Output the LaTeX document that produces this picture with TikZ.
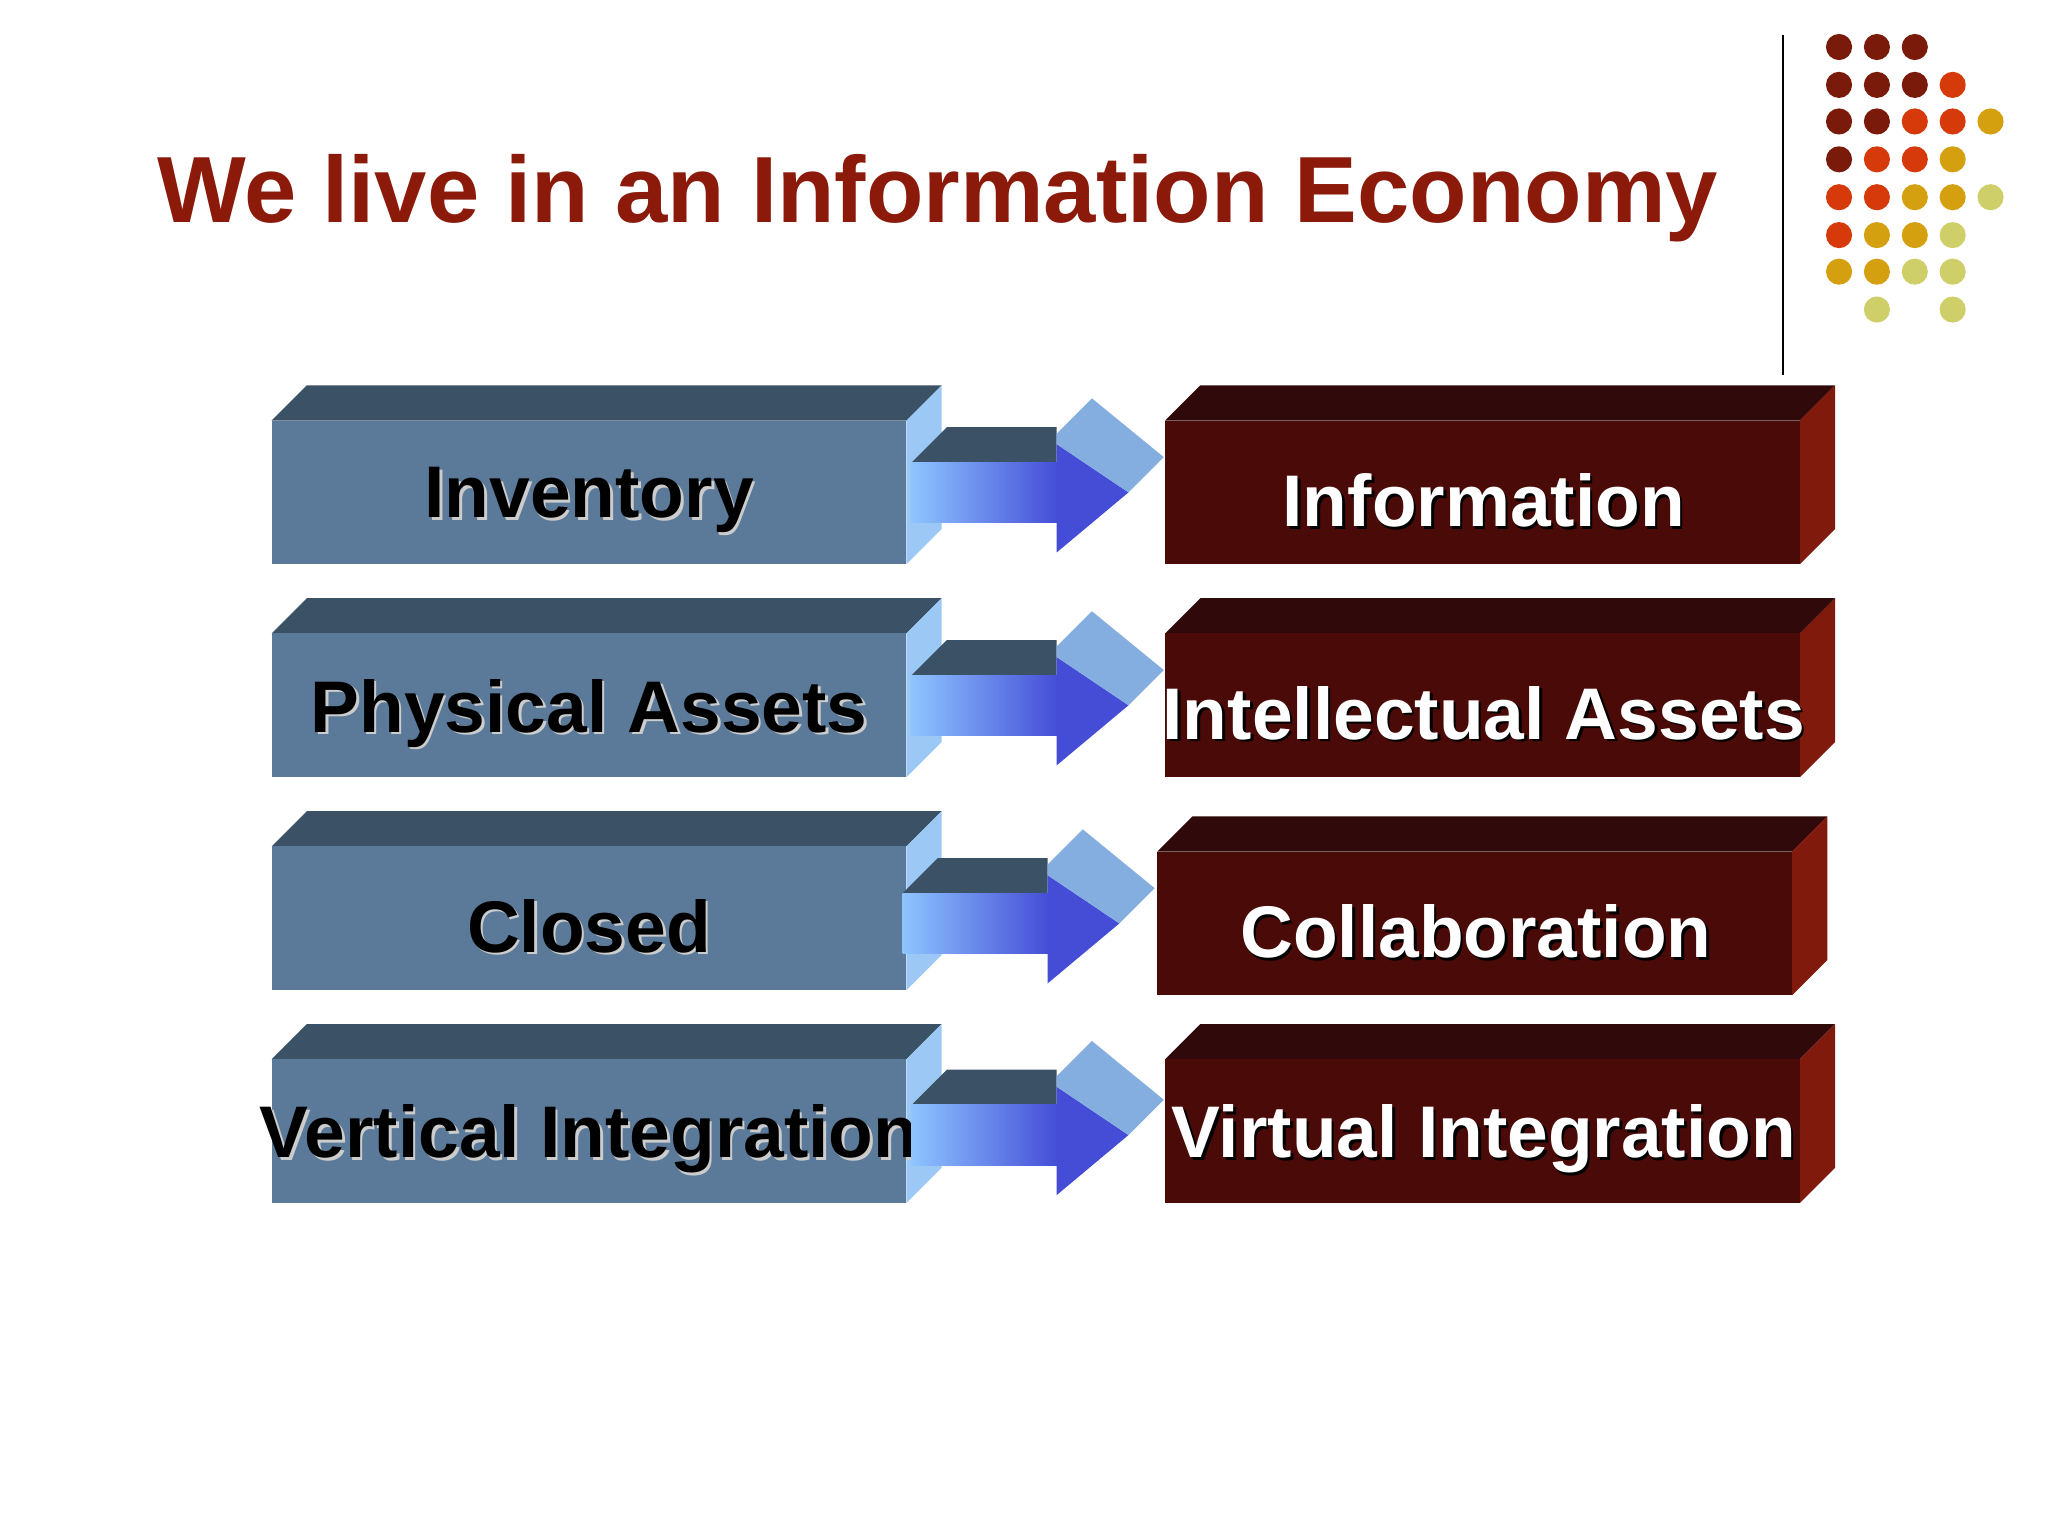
\documentclass[tikz,border=0pt]{standalone}
\usepackage{fontspec}
\setmainfont{Liberation Sans}
\definecolor{ttl}{HTML}{8B1A0A}
\definecolor{bfront}{HTML}{5B7A9A}
\definecolor{btop}{HTML}{3B5166}
\definecolor{bside}{HTML}{9CC8F5}
\definecolor{rfront}{HTML}{4A0A08}
\definecolor{rtop}{HTML}{300A0A}
\definecolor{rside}{HTML}{7F1A0C}
\definecolor{ashaftL}{HTML}{8EC4FF}
\definecolor{ashaftR}{HTML}{3838D0}
\definecolor{ahead}{HTML}{84AEDF}
\definecolor{dA}{HTML}{7A1A0A}
\definecolor{dB}{HTML}{D63A0A}
\definecolor{dC}{HTML}{D4A010}
\definecolor{dD}{HTML}{CFCF6A}
\tikzset{lbl/.style={font=\bfseries\fontsize{28}{30}\selectfont, inner sep=0pt}}
\newcommand\boxrow[5]{%
 % #1 y of front top, #2 right-box dx, #3 right-box dy, #4 left text, #5 right text, #6 arrow dx
 \begin{scope}[shift={(0,#1)}]
  \fill[btop] (208,0) -- (235,-27) -- (721,-27) -- (694,0) -- cycle;
  \fill[bside] (694,0) -- (721,-27) -- (721,83) -- (694,110) -- cycle;
  \fill[bfront] (208,0) rectangle (694,110);
  \node[lbl,text=gray!40] at (453,63) {#4};
  \node[lbl,text=black] (L#1) at (451,61) {#4};
 \end{scope}
 \begin{scope}[shift={(#2,#1+#3)}]
  \fill[rtop] (892,0) -- (919,-27) -- (1405,-27) -- (1378,0) -- cycle;
  \fill[rside] (1378,0) -- (1405,-27) -- (1405,83) -- (1378,110) -- cycle;
  \fill[rfront] (892,0) rectangle (1378,110);
  \node[lbl,text=black] at (1138,63) {#5};
  \node[lbl,text=white] (R#1) at (1136,61) {#5};
 \end{scope}
}
\newcommand\arrowrow[2]{%
 \begin{scope}[shift={(#2,#1)}]
  \fill[btop] (698,354) -- (725,327) -- (809,327) -- (809,354) -- cycle;
  \shade[left color=ashaftL, right color=ashaftR!85!ashaftL] (698,354) rectangle (810,400);
  \fill[ashaftR!85!ashaftL] (809,340) -- (864,377) -- (809,423) -- cycle;
  \fill[ahead] (809,332) -- (836,305) -- (891,350) -- (864,377) -- (809,340) -- cycle;
 \end{scope}
}
\begin{document}
\begin{tikzpicture}[x=0.5pt,y=-0.5pt]
\useasboundingbox (0,0) rectangle (1568,1176);
\fill[white] (0,0) rectangle (1568,1176);
\node[anchor=base west, inner sep=0pt, text=ttl, font=\bfseries\fontsize{36}{40}\selectfont] (title) at (120,170) {We live in an Information Economy};
\draw[line width=0.8pt] (1365,27) -- (1365,287);
% dots
\foreach \x/\y/\c in {1408/36/dA,1437/36/dA,1466/36/dA,
 1408/65/dA,1437/65/dA,1466/65/dA,1495/65/dB,
 1408/93/dA,1437/93/dA,1466/93/dB,1495/93/dB,1524/93/dC,
 1408/122/dA,1437/122/dB,1466/122/dB,1495/122/dC,
 1408/151/dB,1437/151/dB,1466/151/dC,1495/151/dC,1524/151/dD,
 1408/180/dB,1437/180/dC,1466/180/dC,1495/180/dD,
 1408/208/dC,1437/208/dC,1466/208/dD,1495/208/dD,
 1437/237/dD,1495/237/dD}
 \fill[\c] (\x,\y) circle (10);
\boxrow{322}{0}{0}{Inventory}{Information}
\boxrow{485}{0}{0}{Physical Assets}{Intellectual Assets}
\boxrow{648}{-6}{4}{Closed}{Collaboration}
\boxrow{811}{0}{0}{Vertical Integration}{Virtual Integration}
\arrowrow{0}{0}
\arrowrow{163}{0}
\arrowrow{330}{-7}
\arrowrow{492}{0}
\end{tikzpicture}
\end{document}
